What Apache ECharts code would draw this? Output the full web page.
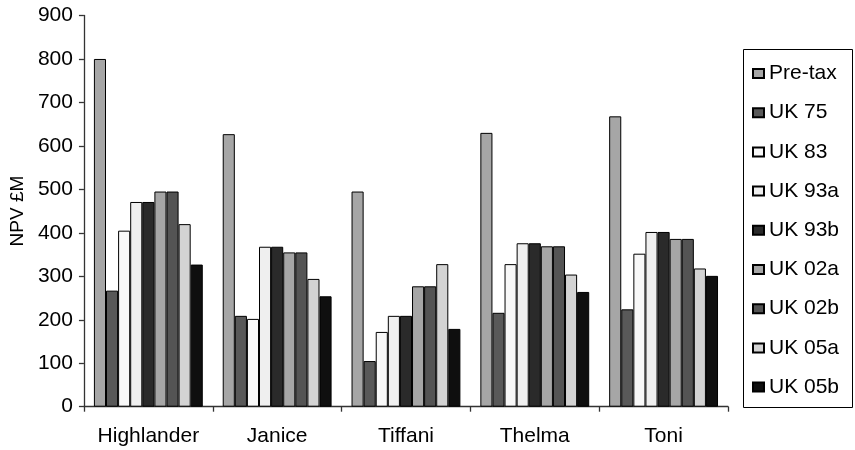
<!DOCTYPE html>
<html>
<head>
<meta charset="utf-8">
<script src="https://cdn.jsdelivr.net/npm/echarts@6/dist/echarts.min.js"></script>
<style>
  html, body { margin: 0; padding: 0; background: #fff; }
  #chart { width: 855px; height: 450px; }
</style>
</head>
<body>
<div id="chart"></div>
<script>
// Fields
var categories = ['Highlander', 'Janice', 'Tiffani', 'Thelma', 'Toni'];

// NPV (£M) per tax regime, one value per field
var preTax = [800, 627, 495, 630, 668];
var uk75   = [267, 209, 105, 216, 224];
var uk83   = [405, 202, 172, 328, 352];
var uk93a  = [471, 368, 209, 376, 402];
var uk93b  = [471, 368, 209, 376, 402];
var uk02a  = [495, 355, 277, 369, 386];
var uk02b  = [495, 355, 277, 369, 386];
var uk05a  = [420, 294, 328, 304, 318];
var uk05b  = [327, 254, 179, 264, 301];

var seriesNames = ['Pre-tax', 'UK 75', 'UK 83', 'UK 93a', 'UK 93b', 'UK 02a', 'UK 02b', 'UK 05a', 'UK 05b'];
var seriesData = [preTax, uk75, uk83, uk93a, uk93b, uk02a, uk02b, uk05a, uk05b];
var fills = ['#a6a6a6', '#595959', '#f8f8f8', '#efefef', '#2a2a2a', '#a6a6a6', '#545454', '#d3d3d3', '#0f0f0f'];

var yTicks = { min: 0, max: 900, interval: 100 };

var font = 'Liberation Sans, Arial, sans-serif';

var chart = echarts.init(document.getElementById('chart'), null, { renderer: 'canvas' });

var series = seriesNames.map(function (name, i) {
  return {
    name: name,
    type: 'bar',
    data: seriesData[i],
    barGap: '0%',
    barCategoryGap: '15.5%',
    itemStyle: { color: fills[i], borderColor: '#000', borderWidth: 1 },
    emphasis: { disabled: true },
    animation: false
  };
});

chart.setOption({
  animation: false,
  grid: { left: 83, right: 127, top: 15.5, bottom: 43.3, containLabel: false },
  graphic: [{
    type: 'rect',
    left: 743, top: 49,
    shape: { width: 109, height: 358 },
    style: { fill: '#fff', stroke: '#000', lineWidth: 1 },
    z: 0
  }],
  legend: {
    orient: 'vertical',
    left: 747, top: 58,
    itemWidth: 11, itemHeight: 9,
    itemGap: 18.2,
    icon: 'rect',
    textStyle: { fontFamily: font, fontSize: 21, color: '#000', lineHeight: 21 },
    data: seriesNames,
    z: 5
  },
  xAxis: {
    type: 'category',
    data: categories,
    axisLine: { lineStyle: { color: '#333', width: 1.3 } },
    axisTick: { show: true, interval: 0, length: 5, lineStyle: { color: '#333', width: 1.3 } },
    axisLabel: { interval: 0, fontFamily: font, fontSize: 21, color: '#000', margin: 19 }
  },
  yAxis: {
    type: 'value',
    min: yTicks.min, max: yTicks.max, interval: yTicks.interval,
    name: 'NPV £M',
    nameLocation: 'middle',
    nameGap: 46,
    nameRotate: 90,
    nameTextStyle: { fontFamily: font, fontSize: 19, color: '#000' },
    axisLine: { show: true, lineStyle: { color: '#333', width: 1.3 } },
    axisTick: { show: true, length: 5, lineStyle: { color: '#333', width: 1.3 } },
    axisLabel: { fontFamily: font, fontSize: 21, color: '#000', margin: 11 },
    splitLine: { show: false }
  },
  series: series
});
</script>
</body>
</html>
